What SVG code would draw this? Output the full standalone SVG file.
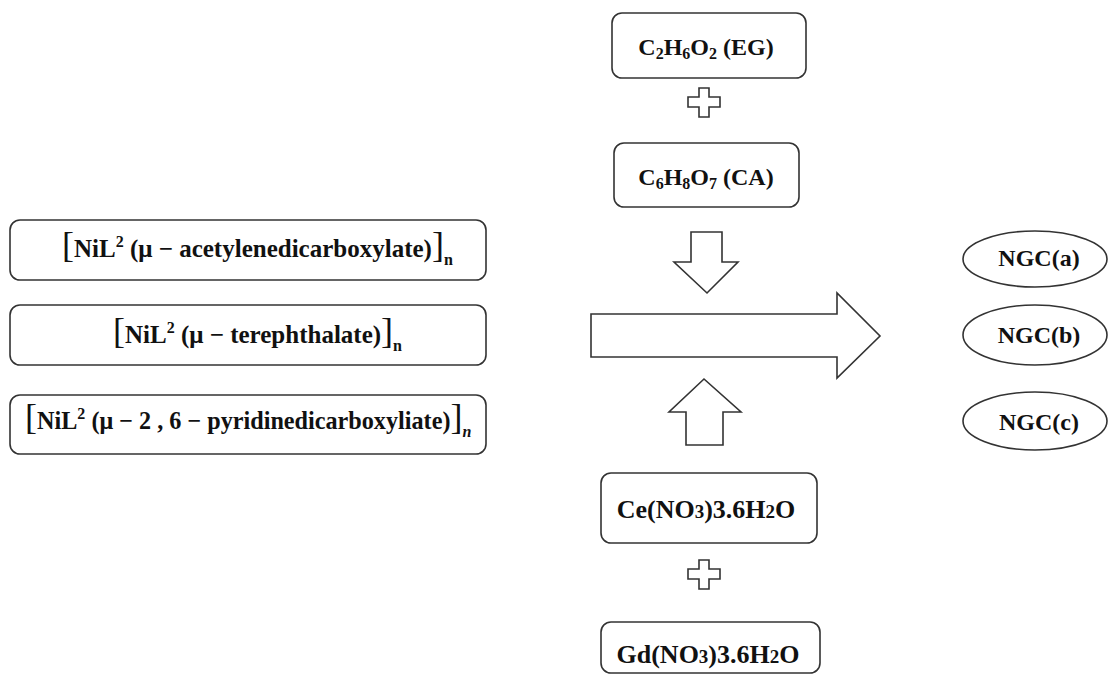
<svg xmlns="http://www.w3.org/2000/svg" width="1108" height="680" viewBox="0 0 1108 680">
<style>
.box{fill:#fff;stroke:#333;stroke-width:1.6}
.shape{fill:#fff;stroke:#333;stroke-width:1.6;stroke-linejoin:miter}
.lt{font-family:'Liberation Serif','Times New Roman','DejaVu Serif',serif;font-weight:bold;font-size:25px;fill:#111}
.rt{font-family:'Liberation Serif','Times New Roman','DejaVu Serif',serif;font-weight:bold;font-size:24px;fill:#111}
.ce{font-size:26px}
.br{font-size:36px;font-weight:normal}
.sup{font-size:16px}
.sub{font-size:16px}
.sm{font-size:19px}
</style>
<rect width="1108" height="680" fill="#fff"/>
<g id="connectors">
<path class="shape" d="M691,232 H722 V262 H738 L707,293 L674,262 H691 Z"/>
<path class="shape" d="M591,314 H837 V293 L880,336 L837,378 V357 H591 Z"/>
<path class="shape" d="M704,379 L741,412 H723 V445 H686 V412 H669 Z"/>
<path class="shape" d="M699,88 H709 V97 H720 V107 H709 V117 H699 V107 H688 V97 H699 Z"/>
<path class="shape" d="M699,560 H709 V569 H720 V579 H709 V589 H699 V579 H688 V569 H699 Z"/>
</g>
<g id="n1">
<rect class="box" x="10" y="220" width="476" height="60" rx="10"/>
<text class="lt" x="62" y="257"><tspan class="br">[</tspan>NiL<tspan class="sup" dy="-10">2</tspan><tspan dy="10"> (μ − acetylenedicarboxylate)</tspan><tspan class="br">]</tspan><tspan class="sub" dy="8">n</tspan></text>
</g>
<g id="n2">
<rect class="box" x="10" y="305" width="476" height="60" rx="10"/>
<text class="lt" x="113" y="343"><tspan class="br">[</tspan>NiL<tspan class="sup" dy="-10">2</tspan><tspan dy="10"> (μ − terephthalate)</tspan><tspan class="br">]</tspan><tspan class="sub" dy="8">n</tspan></text>
</g>
<g id="n3">
<rect class="box" x="10" y="395" width="476" height="59" rx="10"/>
<text class="lt" x="25" y="429" style="font-size:24.2px"><tspan class="br">[</tspan>NiL<tspan class="sup" dy="-10">2</tspan><tspan dy="10"> (μ − 2 , 6 − pyridinedicarboxyliate)</tspan><tspan class="br">]</tspan><tspan class="sub" dy="8" font-style="italic">n</tspan></text>
</g>
<g id="eg">
<rect class="box" x="612" y="13" width="194" height="65" rx="10"/>
<text class="rt" x="706" y="55" text-anchor="middle">C<tspan class="sub" dy="4">2</tspan><tspan dy="-4">H</tspan><tspan class="sub" dy="4">6</tspan><tspan dy="-4">O</tspan><tspan class="sub" dy="4">2</tspan><tspan dy="-4"> (EG)</tspan></text>
</g>
<g id="ca">
<rect class="box" x="614" y="143" width="185" height="64" rx="10"/>
<text class="rt" x="706" y="185" text-anchor="middle">C<tspan class="sub" dy="4">6</tspan><tspan dy="-4">H</tspan><tspan class="sub" dy="4">8</tspan><tspan dy="-4">O</tspan><tspan class="sub" dy="4">7</tspan><tspan dy="-4"> (CA)</tspan></text>
</g>
<g id="ce">
<rect class="box" x="601" y="473" width="216" height="70" rx="10"/>
<text class="rt ce" x="706" y="518" text-anchor="middle">Ce(NO<tspan class="sm">3</tspan>)3.6H<tspan class="sm">2</tspan>O</text>
</g>
<g id="gd">
<rect class="box" x="601" y="622" width="219" height="51" rx="10"/>
<text class="rt ce" x="708" y="663" text-anchor="middle">Gd(NO<tspan class="sm">3</tspan>)3.6H<tspan class="sm">2</tspan>O</text>
</g>
<g id="ngca">
<ellipse class="box" cx="1035" cy="259" rx="72" ry="28"/>
<text class="rt" x="1039" y="266" text-anchor="middle">NGC(a)</text>
</g>
<g id="ngcb">
<ellipse class="box" cx="1035" cy="335" rx="72" ry="30"/>
<text class="rt" x="1039" y="343" text-anchor="middle">NGC(b)</text>
</g>
<g id="ngcc">
<ellipse class="box" cx="1035" cy="421" rx="72" ry="29"/>
<text class="rt" x="1039" y="430" text-anchor="middle">NGC(c)</text>
</g>
</svg>
